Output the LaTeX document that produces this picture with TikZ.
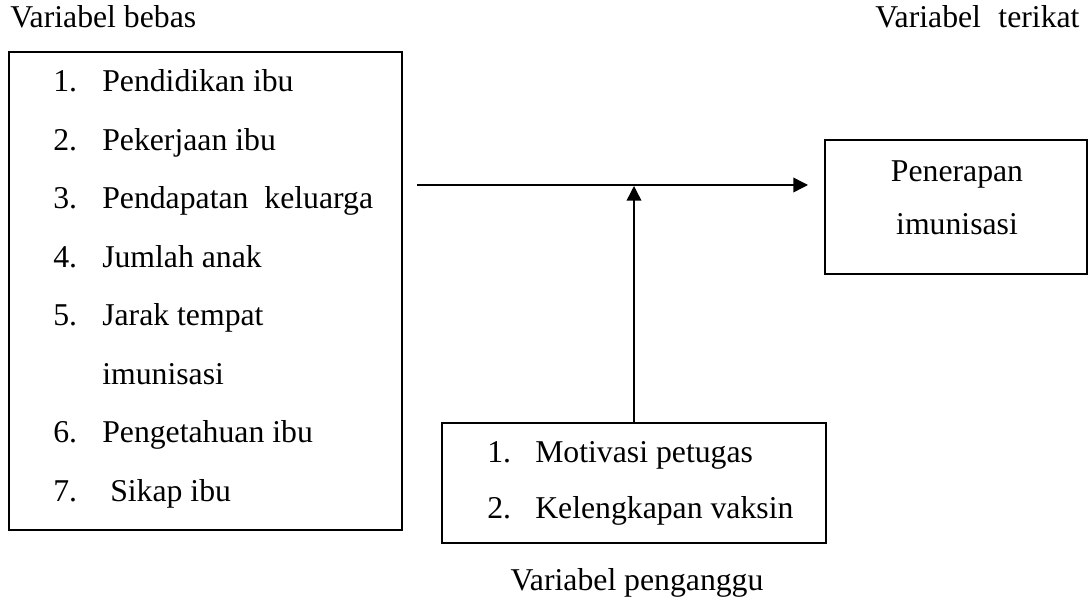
\documentclass[tikz,border=0pt]{standalone}
\usepackage{fontspec}
\setmainfont{Liberation Serif}
\usetikzlibrary{arrows.meta}
\begin{document}
\begin{tikzpicture}[x=0.75pt,y=-0.75pt,
  every node/.style={font=\fontsize{23.8pt}{28pt}\selectfont},
  txt/.style={inner sep=0pt,anchor=base west},
  box/.style={draw,line width=1.1pt,inner sep=0pt},
  arr/.style={line width=1.1pt,-{Triangle[length=11pt,width=11pt]}}]
\useasboundingbox (0,0) rectangle (1089,609);
% boxes
\node[box,minimum width=294.75pt,minimum height=358.5pt] (bebas) at (205.5,291) {};
\node[box,minimum width=196.5pt,minimum height=100.5pt] (terikat) at (956,207) {};
\node[box,minimum width=288pt,minimum height=90pt] (ganggu) at (634,483) {};
% headings
\node[txt] (hb) at (10,28) {Variabel bebas};
\node[txt] (ht) at (875,28) {Variabel\hspace{0.55em}terikat};
\node[inner sep=0pt,anchor=base] (hg) at (637,590) {Variabel penganggu};
% list in left box
\foreach \i/\n/\t [count=\k] in {0/1./Pendidikan ibu,1/2./Pekerjaan ibu,2/3./Pendapatan\ \ keluarga,3/4./Jumlah anak,4/5./Jarak tempat,6/6./Pengetahuan ibu}{
  \node[txt] (num\k) at (53,92+58.5*\i) {\n};
  \node[txt] (itm\k) at (102,92+58.5*\i) {\t};
}
\node[txt] (itm5b) at (102,92+58.5*5) {imunisasi};
\node[txt] (num7) at (53,92+58.5*7) {7.};
\node[txt] (itm7) at (110,92+58.5*7) {Sikap ibu};
% right box text
\node[inner sep=0pt,anchor=base] (r1) at (957,182) {Penerapan};
\node[inner sep=0pt,anchor=base] (r2) at (957,235) {imunisasi};
% bottom box text
\node[txt] (g1n) at (487,463) {1.};
\node[txt] (g1) at (535,463) {Motivasi petugas};
\node[txt] (g2n) at (487,518) {2.};
\node[txt] (g2) at (535,518) {Kelengkapan vaksin};
% arrows
\coordinate (hs) at (417,185);
\coordinate (he) at (808,185);
\coordinate (vt) at (634,186);
\draw[arr] (hs) -- (he);
\draw[arr] (ganggu.north) -- (vt);
\end{tikzpicture}
\end{document}
